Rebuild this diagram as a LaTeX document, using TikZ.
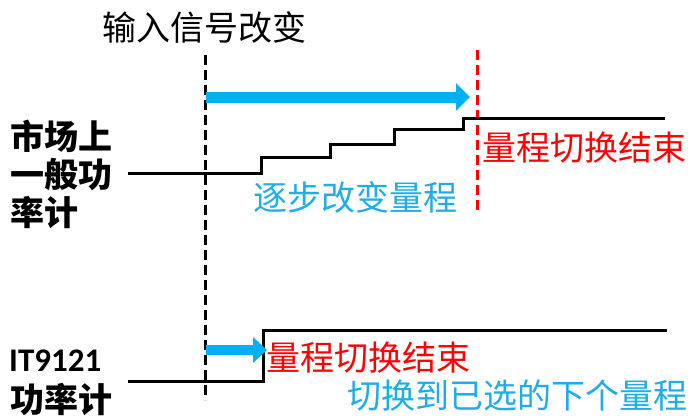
\documentclass[tikz,border=0pt]{standalone}
\usepackage{fontspec}
\setmainfont{Noto Sans CJK SC}
\newfontfamily\latinb{Carlito}
\usetikzlibrary{arrows.meta}
\definecolor{cyanb}{HTML}{00B0F0}
\definecolor{ltblue}{HTML}{20ACE6}
\definecolor{redt}{HTML}{FF0000}
\begin{document}
\begin{tikzpicture}[x=1pt,y=-1pt,
  wave/.style={line width=3pt, line join=miter},
  vdash/.style={line width=3pt, dash pattern=on 10pt off 5pt},
  bigarrow/.style={cyanb, line width=11pt, -{Triangle[length=14pt,width=27pt]}},
  smallarrow/.style={cyanb, line width=10pt, -{Triangle[length=14pt,width=25pt]}},
  lbl/.style={inner sep=0pt, anchor=west, font=\fontsize{34pt}{40pt}\selectfont},
  lblb/.style={lbl, font=\fontsize{34pt}{40pt}\selectfont\bfseries},
  lblc/.style={inner sep=0pt, anchor=center, font=\fontsize{34pt}{40pt}\selectfont}]
\useasboundingbox (0,0) rectangle (690,418);
\fill[white] (0,0) rectangle (690,418);

% vertical markers
\coordinate (d1) at (205,55);
\coordinate (d2) at (205,400);
\draw[vdash] (d1) -- (d2);
\coordinate (r1) at (477,50);
\coordinate (r2) at (477,210);
\draw[vdash, redt] (r1) -- (r2);

% upper waveform
\coordinate (a0) at (128,173);
\coordinate (a1) at (261,173);
\coordinate (a2) at (261,157);
\coordinate (a3) at (330,157);
\coordinate (a4) at (330,144);
\coordinate (a5) at (394,144);
\coordinate (a6) at (394,129);
\coordinate (a7) at (463,129);
\coordinate (a8) at (463,118);
\coordinate (a9) at (665,118);
\draw[wave] (a0) -- (a1) -- (a2) -- (a3) -- (a4) -- (a5) -- (a6) -- (a7) -- (a8) -- (a9);

% lower waveform
\coordinate (b0) at (128,381);
\coordinate (b1) at (263,381);
\coordinate (b2) at (263,330);
\coordinate (b3) at (667,330);
\draw[wave] (b0) -- (b1) -- (b2) -- (b3);

% arrows
\coordinate (t1s) at (206,97);
\coordinate (t1e) at (470,97);
\draw[bigarrow] (t1s) -- (t1e);
\coordinate (t2s) at (206,350);
\coordinate (t2e) at (267,350);
\draw[smallarrow] (t2s) -- (t2e);

% texts
\node[lblc] (title) at (204,27) {输入信号改变};
\node[lblb] (m1) at (10,136) {市场上};
\node[lblb] (m2) at (10,175) {一般功};
\node[lblb] (m3) at (10,213) {率计};
\node[lbl, text=redt] (end1) at (482,148) {量程切换结束};
\node[lbl, text=ltblue] (step) at (253,197) {逐步改变量程};
\node[inner sep=0pt, anchor=west, font=\fontsize{33pt}{40pt}\selectfont\latinb\bfseries] (it) at (9,361) {IT9121};
\node[lblb] (pm) at (10,400) {功率计};
\node[lbl, text=redt] (end2) at (266,358) {量程切换结束};
\node[lbl, text=ltblue] (next) at (347,396) {切换到已选的下个量程};
\end{tikzpicture}
\end{document}
